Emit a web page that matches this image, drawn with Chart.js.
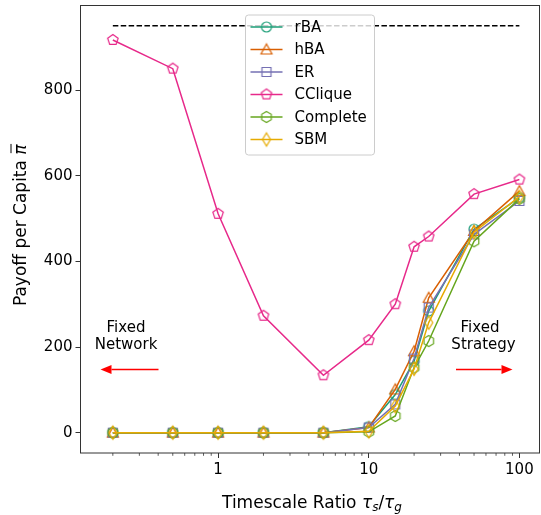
<!DOCTYPE html>
<html>
<head>
<meta charset="utf-8">
<script src="https://cdn.jsdelivr.net/npm/chart.js@4"></script>
<style>
  html, body { margin: 0; padding: 0; background: #fff; overflow: hidden; }
  #wrap { width: 541px; height: 515px; position: relative; }
  canvas { display: block; }
</style>
</head>
<body>
<div id="wrap"><canvas id="payoff"></canvas></div>
<script>
// Data
const ratios = [0.2, 0.5, 1, 2, 5, 10, 15, 20, 25, 50, 100];
const seriesNames = ["rBA", "hBA", "ER", "CClique", "Complete", "SBM"];
const rBA = [0, 0, 0, 0, 0, 14, 89, 167, 284, 475, 549];
const hBA = [0, 0, 0, 0, 0, 12, 101, 190, 315, 471, 564];
const ER = [0, 0, 0, 0, 0, 12, 66, 173, 292, 463, 541];
const CClique = [917, 850, 511, 273, 134, 216, 300, 434, 458, 557, 591];
const Complete = [0, 0, 0, 0, 0, 2, 39, 152, 214, 447, 546];
const SBM = [0, 0, 0, 0, 0, 3, 62, 149, 257, 468, 551];
const optimum = 950;
const xTicks = [1, 10, 100];
const yTicks = [0, 200, 400, 600, 800];

const seriesValues = [rBA, hBA, ER, CClique, Complete, SBM];
const colors = ["#1b9e77", "#d95f02", "#7570b3", "#e7298a", "#66a61e", "#e6ab02"];
const shapes = ["circle", "triangle", "square", "pentagon", "hexagon", "diamond"];

const FONT = "'DejaVu Sans'";

// lager en hul markør som bilde
function makeMarker(shape, color) {
  const c = document.createElement("canvas");
  c.width = 18;
  c.height = 18;
  const g = c.getContext("2d");
  const m = 9, R = 5.5;
  g.strokeStyle = color;
  g.lineWidth = 1.2;
  g.beginPath();
  if (shape == "circle") {
    g.arc(m, m, 5, 0, Math.PI * 2);
  } else if (shape == "triangle") {
    g.moveTo(m, m - R);
    g.lineTo(m + R, m + 4.5);
    g.lineTo(m - R, m + 4.5);
    g.closePath();
  } else if (shape == "square") {
    g.rect(m - 4.5, m - 4.5, 9, 9);
  } else if (shape == "pentagon" || shape == "hexagon") {
    const n = shape == "pentagon" ? 5 : 6;
    for (let k = 0; k < n; k++) {
      const ang = -Math.PI / 2 + k * 2 * Math.PI / n;
      const px = m + R * Math.cos(ang), py = m + R * Math.sin(ang);
      if (k == 0) g.moveTo(px, py); else g.lineTo(px, py);
    }
    g.closePath();
  } else if (shape == "diamond") {
    g.moveTo(m, m - 6.5);
    g.lineTo(m + 4, m);
    g.lineTo(m, m + 6.5);
    g.lineTo(m - 4, m);
    g.closePath();
  }
  g.stroke();
  return c;
}

const markers = shapes.map((s, i) => makeMarker(s, colors[i]));

let datasets = seriesNames.map((name, i) => ({
  label: name,
  data: ratios.map((r, j) => ({ x: r, y: seriesValues[i][j] })),
  borderColor: colors[i],
  borderWidth: 1.5,
  pointStyle: markers[i],
  pointRadius: 5,
  fill: false,
  order: -i
}));

datasets.push({
  label: "optimum",
  data: [{ x: ratios[0], y: optimum }, { x: ratios[ratios.length - 1], y: optimum }],
  borderColor: "#000",
  borderWidth: 1.5,
  borderDash: [5.5, 2.4],
  pointRadius: 0,
  order: 10
});

// tegner tekst i flere biter (for kursiv og senket skrift)
function drawParts(ctx, parts, x, y) {
  let w = 0;
  parts.forEach(p => { ctx.font = p.f; p.w = ctx.measureText(p.t).width; w += p.w; });
  let cx = x - w / 2;
  parts.forEach(p => {
    ctx.font = p.f;
    ctx.fillText(p.t, cx, y + (p.dy || 0));
    p.x = cx;
    cx += p.w;
  });
  return parts;
}

function arrow(ctx, x1, x2, y) {
  const dir = Math.sign(x2 - x1);
  const head = 11;
  ctx.strokeStyle = "#ff0000";
  ctx.fillStyle = "#ff0000";
  ctx.lineWidth = 1.3;
  ctx.beginPath();
  ctx.moveTo(x1, y);
  ctx.lineTo(x2 - dir * head, y);
  ctx.stroke();
  ctx.beginPath();
  ctx.moveTo(x2, y);
  ctx.lineTo(x2 - dir * head, y - 4.5);
  ctx.lineTo(x2 - dir * head, y + 4.5);
  ctx.closePath();
  ctx.fill();
}

function noPadding(scale) {
  scale.paddingTop = 0;
  scale.paddingBottom = 0;
  scale.paddingLeft = 0;
  scale.paddingRight = 0;
}

const extras = {
  id: "extras",
  afterDraw(chart) {
    const ctx = chart.ctx;
    const a = chart.chartArea;
    const xs = chart.scales.x;
    ctx.save();

    // små ticks på log-aksen
    ctx.strokeStyle = "#333";
    ctx.lineWidth = 0.8;
    for (let d = 0.1; d <= 100; d *= 10) {
      for (let k = 2; k <= 9; k++) {
        const v = d * k;
        if (v < xs.min || v > xs.max) continue;
        const px = xs.getPixelForValue(v);
        ctx.beginPath();
        ctx.moveTo(px, a.bottom);
        ctx.lineTo(px, a.bottom + 2.8);
        ctx.stroke();
      }
    }

    // ramme
    ctx.strokeStyle = "#333";
    ctx.lineWidth = 1;
    ctx.strokeRect(a.left, a.top, a.right - a.left, a.bottom - a.top);

    // tegnforklaring
    const lw = 129, lh = 140;
    const lx = (a.left + a.right) / 2 - lw / 2, ly = a.top + 9.5;
    ctx.fillStyle = "rgba(255,255,255,0.8)";
    ctx.strokeStyle = "#cccccc";
    ctx.lineWidth = 1;
    ctx.beginPath();
    ctx.roundRect(lx, ly, lw, lh, 3);
    ctx.fill();
    ctx.stroke();
    ctx.textBaseline = "middle";
    ctx.textAlign = "left";
    ctx.font = "15px " + FONT;
    seriesNames.forEach((name, i) => {
      const yy = ly + 12 + i * 22.5;
      ctx.strokeStyle = colors[i];
      ctx.lineWidth = 1.5;
      ctx.beginPath();
      ctx.moveTo(lx + 5, yy);
      ctx.lineTo(lx + 37, yy);
      ctx.stroke();
      ctx.drawImage(markers[i], lx + 21 - 9, yy - 9);
      ctx.fillStyle = "#000";
      ctx.fillText(name, lx + 49, yy + 1);
    });

    // tekst og piler
    ctx.fillStyle = "#000";
    ctx.textAlign = "center";
    ctx.font = "15px " + FONT;
    ctx.fillText("Fixed", a.left + 45.5, 328);
    ctx.fillText("Network", a.left + 45.5, 345.5);
    ctx.fillText("Fixed", a.right - 59.5, 328);
    ctx.fillText("Strategy", a.right - 56, 345.5);
    arrow(ctx, a.left + 78, a.left + 20, 369.5);
    arrow(ctx, a.right - 83.5, a.right - 27, 369.5);

    // aksetitler
    ctx.textAlign = "left";
    ctx.textBaseline = "alphabetic";
    ctx.fillStyle = "#000";
    drawParts(ctx, [
      { t: "Timescale Ratio ", f: "17px " + FONT },
      { t: "τ", f: "italic 17px " + FONT },
      { t: "s", f: "italic 12px " + FONT, dy: 3.5 },
      { t: "/", f: "17px " + FONT },
      { t: "τ", f: "italic 17px " + FONT },
      { t: "g", f: "italic 12px " + FONT, dy: 3.5 }
    ], (a.left + a.right) / 2 + 2, 507.5);

    ctx.translate(25.5, (a.top + a.bottom) / 2 - 4);
    ctx.rotate(-Math.PI / 2);
    const p = drawParts(ctx, [
      { t: "Payoff per Capita ", f: "17px " + FONT },
      { t: "π", f: "italic 17px " + FONT }
    ], 0, 0);
    const pi = p[1];
    ctx.strokeStyle = "#000";
    ctx.lineWidth = 1;
    ctx.beginPath();
    ctx.moveTo(pi.x + 1.5, -14.5);
    ctx.lineTo(pi.x + pi.w + 0.5, -14.5);
    ctx.stroke();

    ctx.restore();
  }
};

Chart.defaults.font.family = FONT;
Chart.defaults.font.size = 15;
Chart.defaults.color = "#000";

new Chart("payoff", {
  type: "line",
  data: { datasets: datasets },
  plugins: [extras],
  options: {
    responsive: true,
    maintainAspectRatio: false,
    animation: false,
    layout: { autoPadding: false, padding: { top: 5.5, right: 1.5, left: 0, bottom: 0 } },
    plugins: {
      legend: { display: false },
      tooltip: { enabled: false }
    },
    scales: {
      x: {
        type: "logarithmic",
        min: 0.122,
        max: 136,
        afterBuildTicks: (scale) => { scale.ticks = xTicks.map(v => ({ value: v })); },
        afterFit: (scale) => { scale.height = 62; noPadding(scale); },
        ticks: {
          autoSkip: false,
          maxRotation: 0,
          padding: 3,
          color: "#000",
          callback: (v) => String(v)
        },
        grid: { drawOnChartArea: false, tickLength: 5, tickColor: "#333" },
        border: { display: false }
      },
      y: {
        min: -47.5,
        max: 997.5,
        afterBuildTicks: (scale) => { scale.ticks = yTicks.map(v => ({ value: v })); },
        afterFit: (scale) => { scale.width = 80.5; noPadding(scale); },
        ticks: { padding: 3, color: "#000" },
        grid: { drawOnChartArea: false, tickLength: 5, tickColor: "#333" },
        border: { display: false }
      }
    }
  }
});
</script>
</body>
</html>
